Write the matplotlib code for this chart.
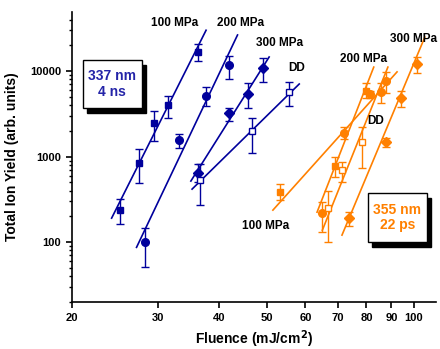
import matplotlib
matplotlib.use('Agg')
import matplotlib.pyplot as plt
from matplotlib.patches import Rectangle
from matplotlib.ticker import LogLocator, NullLocator, NullFormatter
import numpy as np

plt.rcParams['font.family'] = ['Liberation Sans', 'DejaVu Sans']
plt.rcParams['font.weight'] = 'bold'

BLUE = '#00009C'
ORANGE = '#FF8000'

# ---- 337 nm, 4 ns (blue) ----
b100_x = [25.1, 27.4, 29.4, 31.4, 36.2]
b100_y = [237, 840, 2466, 4000, 16700]
b100_hi = [316, 1222, 3408, 5120, 20700]
b100_lo = [162, 490, 1519, 2830, 13000]

b200_x = [28.2, 33.1, 37.6, 41.9]
b200_y = [100, 1560, 5100, 11750]
b200_hi = [146, 1840, 6500, 15000]
b200_lo = [51, 1255, 3900, 8100]

b300_x = [36.2, 41.9, 45.8, 49.2]
b300_y = [641, 3227, 5385, 10840]
b300_hi = [830, 3680, 7280, 14200]
b300_lo = [500, 2600, 3680, 7440]

bdd_x = [36.6, 46.6, 55.6]
bdd_y = [531, 1987, 5640]
bdd_hi = [818, 2830, 7440]
bdd_lo = [271, 1100, 3900]

# ---- 355 nm, 22 ps (orange) ----
o100_x = [53.3, 69.0, 80.0]
o100_y = [384, 772, 5850]
o100_hi = [476, 1000, 7280]
o100_lo = [310, 576, 4800]

o200_x = [64.9, 71.9, 81.5, 85.6, 87.9]
o200_y = [218, 1880, 5385, 5640, 7660]
o200_hi = [293, 2220, 5900, 7280, 9780]
o200_lo = [131, 1600, 4900, 4200, 5530]

o300_x = [73.8, 87.9, 94.2, 101.5]
o300_y = [191, 1474, 4800, 12100]
o300_hi = [224, 1650, 5850, 14600]
o300_lo = [154, 1290, 3800, 9550]

odd_x = [66.8, 71.3, 78.5]
odd_y = [250, 690, 1474]
odd_hi = [395, 860, 2220]
odd_lo = [100, 500, 730]

# fitted power-law lines (endpoints)
fits = [
    ((24.1, 37.6), (191, 30000), BLUE),
    ((27.1, 43.6), (87, 26400), BLUE),
    ((35.0, 50.6), (518, 14600), BLUE),
    ((35.2, 58.3), (417, 7060), BLUE),
    ((51.5, 92.4), (237, 9780), ORANGE),
    ((63.4, 82.8), (224, 11120), ORANGE),
    ((65.0, 88.5), (138, 11120), ORANGE),
    ((71.3, 105.3), (121, 24900), ORANGE),
]

fig = plt.figure(figsize=(4.4, 3.49), dpi=100)
ax = fig.add_axes([72/440, 1-302/349, 364/440, 290/349])
ax.set_xscale('log')
ax.set_yscale('log')

for (xs, ys, c) in fits:
    ax.plot(xs, ys, color=c, lw=1.2)

def series(x, y, hi, lo, color, marker, ms, face=None):
    y = np.array(y); hi = np.array(hi); lo = np.array(lo)
    ax.errorbar(x, y, yerr=[y - lo, hi - y], fmt='none', ecolor=color,
                elinewidth=1, capsize=3, capthick=1)
    ax.plot(x, y, ls='none', marker=marker, ms=ms, color=color,
            mfc=face if face else color, mec=color, mew=1)

series(b100_x, b100_y, b100_hi, b100_lo, BLUE, 's', 5)
series(b200_x, b200_y, b200_hi, b200_lo, BLUE, 'o', 5.5)
series(b300_x, b300_y, b300_hi, b300_lo, BLUE, 'D', 5)
series(bdd_x, bdd_y, bdd_hi, bdd_lo, BLUE, 's', 5, face='white')
series(o100_x, o100_y, o100_hi, o100_lo, ORANGE, 's', 5)
series(o200_x, o200_y, o200_hi, o200_lo, ORANGE, 'o', 5.5)
series(o300_x, o300_y, o300_hi, o300_lo, ORANGE, 'D', 5)
series(odd_x, odd_y, odd_hi, odd_lo, ORANGE, 's', 5, face='white')

ax.set_xlim(20, 111)
ax.set_ylim(20, 49000)

xt = [20, 30, 40, 50, 60, 70, 80, 90, 100]
ax.set_xticks(xt)
ax.set_xticklabels([str(v) for v in xt])
ax.xaxis.set_minor_locator(NullLocator())
ax.set_yticks([100, 1000, 10000])
ax.set_yticklabels(['100', '1000', '10000'])
ax.yaxis.set_minor_locator(LogLocator(base=10, subs=np.arange(2, 10)))
ax.yaxis.set_minor_formatter(NullFormatter())
ax.tick_params(which='major', length=4, width=1.2, labelsize=8, pad=4)
ax.tick_params(which='minor', length=2.5, width=1)
ax.tick_params(axis='x', pad=4)

for s in ['top', 'right']:
    ax.spines[s].set_visible(False)
for s in ['left', 'bottom']:
    ax.spines[s].set_linewidth(1.2)

ax.set_xlabel('Fluence (mJ/cm$^\\mathbf{2}$)', fontsize=10, fontweight='bold', labelpad=4)
ax.set_ylabel('Total Ion Yield (arb. units)', fontsize=10, fontweight='bold', labelpad=8)

# series labels
labels = [
    ('100 MPa', 0.283, 0.962), ('200 MPa', 0.464, 0.962),
    ('300 MPa', 0.569, 0.893), ('DD', 0.618, 0.807),
    ('300 MPa', 0.937, 0.907), ('200 MPa', 0.802, 0.838),
    ('DD', 0.835, 0.624), ('100 MPa', 0.533, 0.262),
]
for t, x, y in labels:
    ax.text(x, y, t, transform=ax.transAxes, ha='center', va='center',
            fontsize=8.5, fontweight='bold', color='black')

def box(x0, y0, w, h, text, color):
    ax.add_patch(Rectangle((x0 + 0.011, y0 - 0.017), w, h, transform=ax.transAxes,
                           facecolor='black', edgecolor='black', clip_on=False, zorder=5))
    ax.add_patch(Rectangle((x0, y0), w, h, transform=ax.transAxes,
                           facecolor='white', edgecolor='black', lw=1, clip_on=False, zorder=6))
    ax.text(x0 + w/2, y0 + h/2, text, transform=ax.transAxes, ha='center', va='center',
            fontsize=10, fontweight='bold', color=color, zorder=7, linespacing=1.15)

box(0.030, 0.669, 0.162, 0.166, '337 nm\n4 ns', '#2424A8')
box(0.813, 0.207, 0.162, 0.169, '355 nm\n22 ps', ORANGE)

plt.savefig('out.png', dpi=100)
